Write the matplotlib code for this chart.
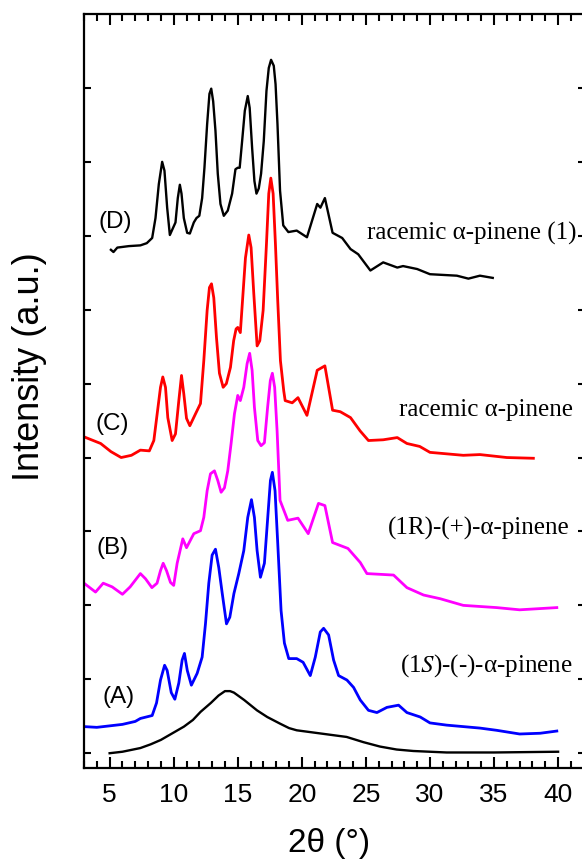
import numpy as np
import matplotlib.pyplot as plt
from matplotlib.ticker import MultipleLocator

# Traced XRD patterns (2theta in degrees, intensity in stacked arbitrary units)
base_x = [5.0, 6.0, 7.4, 8.2, 9.0, 10.0, 10.8, 11.5, 12.1, 12.9, 13.5, 14.0, 14.4, 14.7,
          15.5, 16.5, 17.3, 18.3, 19.0, 19.6, 20.9, 22.2, 23.5, 24.8, 26.1, 27.4, 28.7,
          31.3, 35.0, 40.0]
base_y = [0.0, 0.02, 0.07, 0.12, 0.18, 0.28, 0.36, 0.45, 0.56, 0.68, 0.78, 0.84, 0.84, 0.82,
          0.72, 0.58, 0.49, 0.40, 0.34, 0.31, 0.28, 0.25, 0.22, 0.15, 0.09, 0.05, 0.03,
          0.01, 0.01, 0.02]

a_x = [3.0, 4.0, 5.0, 6.0, 7.0, 7.4, 8.32, 8.66, 8.97, 9.29, 9.49, 9.81, 10.09, 10.4,
       10.66, 10.84, 11.06, 11.38, 11.83, 12.22, 12.48, 12.74, 13.0, 13.26, 13.52, 13.79,
       14.12, 14.38, 14.7, 15.08, 15.47, 15.78, 16.07, 16.3, 16.51, 16.77, 17.08, 17.34,
       17.55, 17.7, 17.91, 18.12, 18.38, 18.64, 18.98, 19.6, 20.1, 20.66, 21.05, 21.44,
       21.7, 22.09, 22.48, 22.87, 23.52, 24.04, 24.56, 25.2, 25.86, 26.64, 27.55, 28.2,
       29.24, 30.0, 31.3, 33.9, 35.2, 37.0, 38.6, 39.9]
a_y = [0.36, 0.35, 0.37, 0.39, 0.43, 0.47, 0.51, 0.68, 0.99, 1.19, 1.12, 0.82, 0.73, 0.95,
       1.26, 1.35, 1.12, 0.92, 1.08, 1.30, 1.75, 2.30, 2.68, 2.76, 2.51, 2.16, 1.75, 1.84,
       2.16, 2.43, 2.74, 3.19, 3.43, 3.19, 2.74, 2.38, 2.57, 3.19, 3.69, 3.80, 3.55, 2.84,
       1.93, 1.49, 1.28, 1.28, 1.23, 1.05, 1.30, 1.64, 1.69, 1.60, 1.26, 1.05, 0.99, 0.89,
       0.72, 0.58, 0.55, 0.62, 0.65, 0.55, 0.49, 0.41, 0.38, 0.34, 0.31, 0.26, 0.27, 0.30]

b_x = [3.0, 3.9, 4.5, 5.2, 6.0, 6.6, 7.4, 7.8, 8.3, 8.7, 8.97, 9.18, 9.44, 9.75, 10.0,
       10.27, 10.71, 11.0, 11.57, 12.09, 12.35, 12.61, 12.87, 13.18, 13.44, 13.7, 13.96,
       14.22, 14.48, 14.74, 15.0, 15.2, 15.47, 15.73, 15.93, 16.12, 16.3, 16.56, 16.82,
       17.08, 17.33, 17.54, 17.7, 17.88, 18.07, 18.3, 18.9, 19.7, 20.5, 21.3, 21.8, 22.4,
       23.6, 24.56, 25.08, 27.16, 28.2, 29.5, 30.8, 32.6, 35.2, 37.0, 39.9]
b_y = [2.30, 2.18, 2.30, 2.25, 2.15, 2.25, 2.43, 2.36, 2.24, 2.30, 2.47, 2.57, 2.47, 2.31,
       2.27, 2.57, 2.90, 2.78, 2.97, 3.01, 3.19, 3.55, 3.78, 3.82, 3.69, 3.53, 3.59, 3.82,
       4.19, 4.59, 4.84, 4.77, 4.95, 5.27, 5.41, 5.18, 4.68, 4.23, 4.16, 4.20, 4.68, 5.04,
       5.14, 4.95, 4.36, 3.42, 3.15, 3.18, 2.97, 3.38, 3.35, 2.85, 2.77, 2.58, 2.43, 2.41,
       2.24, 2.14, 2.09, 2.00, 1.97, 1.94, 1.97]

c_x = [3.0, 4.3, 5.1, 5.9, 6.7, 7.4, 8.1, 8.45, 8.71, 8.97, 9.15, 9.36, 9.54, 9.88, 10.14,
       10.4, 10.61, 10.79, 11.0, 11.26, 11.7, 12.09, 12.35, 12.61, 12.79, 12.95, 13.13,
       13.34, 13.57, 13.86, 14.11, 14.43, 14.68, 14.87, 15.0, 15.2, 15.41, 15.6, 15.86,
       16.04, 16.25, 16.51, 16.72, 16.98, 17.24, 17.42, 17.58, 17.76, 17.94, 18.12, 18.33,
       18.59, 18.7, 19.25, 19.7, 20.4, 21.2, 21.8, 22.4, 23.0, 23.8, 24.55, 25.2, 26.35,
       27.45, 28.2, 29.2, 30.0, 32.6, 33.9, 36.0, 38.07]
c_y = [4.28, 4.19, 4.08, 4.00, 4.03, 4.10, 4.09, 4.23, 4.59, 4.95, 5.09, 4.95, 4.54, 4.23,
       4.32, 4.77, 5.11, 4.86, 4.53, 4.43, 4.59, 4.73, 5.31, 5.99, 6.30, 6.35, 6.16, 5.62,
       5.14, 4.95, 5.00, 5.22, 5.58, 5.74, 5.76, 5.69, 6.22, 6.70, 7.01, 6.84, 6.22, 5.51,
       5.58, 5.99, 6.89, 7.57, 7.78, 7.57, 6.89, 6.12, 5.31, 4.90, 4.77, 4.74, 4.81, 4.57,
       5.18, 5.24, 4.64, 4.62, 4.54, 4.36, 4.23, 4.24, 4.27, 4.19, 4.15, 4.07, 4.03, 4.04,
       4.00, 3.99]

d_x = [5.1, 5.3, 5.6, 6.5, 7.4, 7.9, 8.32, 8.58, 8.84, 9.1, 9.28, 9.49, 9.7, 10.14, 10.32,
       10.48, 10.61, 10.79, 11.05, 11.26, 11.57, 11.78, 12.0, 12.22, 12.4, 12.61, 12.79,
       12.93, 13.08, 13.26, 13.44, 13.65, 13.91, 14.22, 14.56, 14.82, 15.0, 15.15, 15.34,
       15.55, 15.78, 15.93, 16.12, 16.3, 16.46, 16.64, 16.82, 17.03, 17.24, 17.42, 17.6,
       17.81, 17.95, 18.1, 18.3, 18.55, 18.95, 19.6, 20.4, 21.2, 21.45, 21.8, 22.4, 23.15,
       23.8, 24.4, 25.35, 26.35, 27.45, 27.9, 29.0, 30.0, 32.1, 33.0, 33.9, 34.9]
d_y = [6.81, 6.78, 6.84, 6.86, 6.87, 6.90, 6.97, 7.24, 7.70, 8.00, 7.88, 7.38, 7.01, 7.18,
       7.51, 7.69, 7.57, 7.24, 7.04, 7.03, 7.18, 7.24, 7.27, 7.51, 7.92, 8.51, 8.92, 8.99,
       8.82, 8.42, 7.84, 7.43, 7.27, 7.34, 7.57, 7.90, 7.92, 7.92, 8.28, 8.69, 8.89, 8.73,
       8.19, 7.74, 7.57, 7.64, 7.84, 8.28, 8.96, 9.27, 9.38, 9.30, 9.05, 8.51, 7.61, 7.14,
       7.05, 7.07, 6.98, 7.43, 7.38, 7.51, 7.04, 6.97, 6.82, 6.75, 6.53, 6.64, 6.57, 6.59,
       6.55, 6.48, 6.46, 6.42, 6.46, 6.43]

letters = ['(A)', '(B)', '(C)', '(D)']
letter_pos = [(5.7, 0.76), (5.23, 2.77), (5.23, 4.46), (5.47, 7.18)]
names = ['(1$\\mathit{S}$)-(-)-α-pinene', '(1R)-(+)-α-pinene', 'racemic α-pinene',
         'racemic α-pinene (1)']
name_pos = [(41.16, 1.18), (40.93, 3.04), (41.16, 4.64), (41.45, 7.03)]

fig = plt.figure(figsize=(5.82, 8.66), dpi=100)
ax = fig.add_axes([84 / 582, 1 - 768 / 866, (585 - 84) / 582, (768 - 14) / 866])

ax.plot(base_x, base_y, color='black', lw=1.7)
ax.plot(a_x, a_y, color='#0000ff', lw=2.0)
ax.plot(b_x, b_y, color='#ff00ff', lw=2.0)
ax.plot(c_x, c_y, color='#ff0000', lw=2.0)
ax.plot(d_x, d_y, color='black', lw=1.7)

for lab, (x, y) in zip(letters, letter_pos):
    ax.text(x, y, lab, fontsize=17.5, family='Liberation Sans', ha='center', va='center')
for nm, (x, y) in zip(names, name_pos):
    ax.text(x, y, nm, fontsize=18, family='Liberation Serif', ha='right', va='center',
            math_fontfamily='stix')

ax.set_xlim(3.0, 42.1)
ax.set_ylim(-0.2, 10.0)
ax.xaxis.set_major_locator(MultipleLocator(5))
ax.xaxis.set_minor_locator(MultipleLocator(1))
ax.set_xticks(np.arange(5, 41, 5))
ax.set_yticks(np.arange(0, 10, 1))
ax.tick_params(which='both', direction='in', top=True, right=True, width=1.5,
               labelleft=False, labelsize=19, pad=11)
ax.tick_params(axis='x', which='major', length=8)
ax.tick_params(axis='x', which='minor', length=5)
ax.tick_params(axis='y', which='major', length=5)
for lbl in ax.get_xticklabels():
    lbl.set_family('Liberation Sans')
for s in ax.spines.values():
    s.set_linewidth(1.6)

ax.set_xlabel('2θ (°)', fontsize=24, family='Liberation Sans')
ax.set_ylabel('Intensity (a.u.)', fontsize=26, family='Liberation Sans')
ax.xaxis.set_label_coords(0.49, -0.080)
ax.yaxis.set_label_coords(-0.074, 0.532)

fig.savefig('out.png', dpi=100)
